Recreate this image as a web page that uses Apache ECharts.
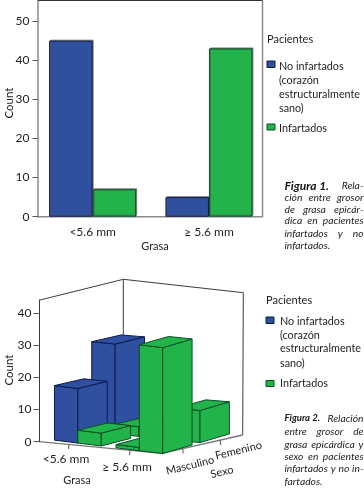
<!DOCTYPE html>
<html><head><meta charset="utf-8">
<style>html,body{margin:0;padding:0;background:#fff}#c{width:364px;height:490px}</style>
<script src="https://cdn.jsdelivr.net/npm/echarts@6/dist/echarts.min.js"></script>
</head><body><div id="c"></div>
<script>
// ---- data ----
const grasaLabels = ['<5.6 mm', '≥ 5.6 mm'];
const sexoLabels = ['Masculino', 'Femenino'];
const noInfartadosTotal = [45, 5];
const infartadosTotal = [7, 43];
const topTicks = [0, 10, 20, 30, 40, 50];
const bottomTicks = [0, 10, 20, 30, 40];
// per Grasa row: [Masculino, Femenino]
const noInfartadosPorSexo = [[17, 28], [1, 4]];
const infartadosPorSexo = [[4, 3], [33, 10]];
const legendTitle = 'Pacientes';
const legendNoInf = ['No infartados', '(corazón', 'estructuralmente', 'sano)'];
const legendInf = 'Infartados';
const captionOne = ['Figura 1. Rela-', 'ción entre grosor', 'de grasa epicár-', 'dica en pacientes', 'infartados y no', 'infartados.'];
const captionTwo = ['Figura 2. Relación', 'entre grosor de', 'grasa epicárdica y', 'sexo en pacientes', 'infartados y no in-', 'fartados.'];

// ---- style ----
const BLUE = '#2f4f9f', BLUE_E = '#0c1a4e', GREEN = '#23b34b', GREEN_E = '#0a4f26';
const TXT = '#1e1e1e', FONT = 'Lato, "Open Sans", sans-serif';
const AXG = '#8a8a8a', WALL = '#3c3c3c';

// ---- oblique projection of the floor, in x-axis units and counts ----
const U = 123, V = 80.7, PXC = 3.21, VY = 18.3;
const BAR_A = 0.19, BAR_B = 0.364, A0 = 0.043, A_ROW = 0.5, B0 = 0.12, B_ROW = 0.462;
function proj(a, b, h) {
  const k = 16 - 6 * b;
  return [a * U + b * V, h - (k * a - VY * b) / PXC];
}
const seriesColor = (s, i, j) => (s === 0 && !(i === 1 && j === 0)) ? [BLUE, BLUE_E] : [GREEN, GREEN_E];
// paint order back to front: [series, grasa, sexo]
const paint = [[0,0,1],[1,0,1],[0,1,1],[1,1,1],[0,0,0],[1,0,0],[0,1,0],[1,1,0]];
const bars3d = paint.map(([s,i,j]) => [s, i, j, (s === 0 ? noInfartadosPorSexo : infartadosPorSexo)[i][j]]);

function renderBar(params, api) {
  const s = api.value(0), i = api.value(1), j = api.value(2), h = api.value(3);
  const a = A0 + i * A_ROW + s * BAR_A, b = B0 + j * B_ROW;
  const P = (aa, bb, hh) => api.coord(proj(aa, bb, hh));
  const a1 = a + BAR_A, b1 = b + BAR_B;
  const [fill, stroke] = seriesColor(s, i, j);
  const st = { fill, stroke, lineWidth: 1 };
  const poly = pts => ({ type: 'polygon', shape: { points: pts }, style: st });
  return { type: 'group', children: [
    poly([P(a,b,0), P(a1,b,0), P(a1,b,h), P(a,b,h)]),
    poly([P(a1,b,0), P(a1,b1,0), P(a1,b1,h), P(a1,b,h)]),
    poly([P(a,b,h), P(a1,b,h), P(a1,b1,h), P(a,b1,h)])
  ]};
}

// ---- graphic helpers ----
const g = [];
const ln = (pts, stroke, w) => g.push({ type: 'polyline', z: 0, silent: true, shape: { points: pts }, style: { stroke, lineWidth: w, fill: null } });
const txt = (x, y, t, o) => g.push(Object.assign({ type: 'text', z: 5, x, y, style: Object.assign({ text: t, fill: TXT, font: '11px ' + FONT, align: 'left', verticalAlign: 'middle' }, o && o.style) }, o && o.pos));
const swatch = (x, y, w, h, f, e) => g.push({ type: 'rect', z: 5, shape: { x, y, width: w, height: h }, style: { fill: f, stroke: e, lineWidth: 1 } });
const mctx = document.createElement('canvas').getContext('2d');
function justified(line, x0, x1, y, font, color) {
  const words = line.split(' ');
  mctx.font = font;
  const ws = words.map(w => mctx.measureText(w).width);
  const gap = (x1 - x0 - ws.reduce((p, c) => p + c, 0)) / (words.length - 1);
  let x = x0;
  words.forEach((w, n) => { txt(x, y, w, { style: { font, fill: color } }); x += ws[n] + gap; });
}
function legendBlock(x0, tx, ys, sw) {
  txt(x0, ys.title, legendTitle, { style: { font: '11px ' + FONT } });
  swatch(x0, sw[0], 8, 6.5, BLUE, BLUE_E);
  legendNoInf.forEach((t, n) => txt(tx, ys.lines[n], t, { style: { font: '10.8px ' + FONT } }));
  swatch(x0, sw[1], 8, 6, GREEN, GREEN_E);
  txt(tx, ys.inf, legendInf, { style: { font: '10.8px ' + FONT } });
}
function caption(lines, ys, headSize) {
  const font = 'italic 10.3px ' + FONT, bf = 'italic bold ' + headSize + 'px ' + FONT;
  lines.forEach((l, n) => {
    if (n === lines.length - 1) { txt(284.5, ys[n], l, { style: { font, fill: '#222' } }); return; }
    if (n > 0) { justified(l, 284.5, 363.5, ys[n], font, '#222'); return; }
    const words = l.split(' ');
    txt(284.5, ys[n], words.slice(0, 2).join(' '), { style: { font: bf, fill: '#111' } });
    txt(363.5, ys[n], words.slice(2).join(' '), { style: { font, fill: '#222', align: 'right' } });
  });
}
const vertical = Math.PI / 2, rot = 0.24;

// top chart frame
ln([[37.5, 0.5], [262.5, 0.5]], '#333', 1);
ln([[262.5, 0], [262.5, 217]], AXG, 1.5);
ln([[37, 216.7], [263, 216.7]], AXG, 1.5);
txt(9, 103, 'Count', { pos: { rotation: vertical }, style: { font: '11.5px ' + FONT, align: 'center' } });
txt(155, 246, 'Grasa', { style: { font: '11px ' + FONT, align: 'center' } });
legendBlock(267, 279, { title: 39.5, lines: [67, 81, 95, 108.7], inf: 128.3 }, [61, 124]);
caption(captionOne, [186, 197.5, 209.5, 221, 233.3, 245.5], 12);

// bottom chart walls
ln([[40, 300], [123.3, 279.3], [243.3, 292.7], [242.7, 435]], WALL, 1);
ln([[123.3, 279.3], [123.3, 424]], WALL, 1);
ln([[39, 441.7], [162, 453.3], [242.7, 435]], '#777', 1.3);
[[69, 444.6, 68.5, 449], [130, 450.4, 129.5, 455], [182.7, 448.6, 183.3, 453.4], [220, 440, 220.7, 445]].forEach(t => ln([[t[0], t[1]], [t[2], t[3]]], '#555', 1));
txt(66, 459, grasaLabels[0], { style: { font: '12px ' + FONT, align: 'center' } });
txt(127, 467.3, grasaLabels[1], { style: { font: '12px ' + FONT, align: 'center' } });
txt(77, 480.5, 'Grasa', { style: { font: '11px ' + FONT, align: 'center' } });
txt(9, 370, 'Count', { pos: { rotation: vertical }, style: { font: '11.5px ' + FONT, align: 'center' } });
txt(190, 465.5, sexoLabels[0], { pos: { rotation: rot }, style: { font: '11px ' + FONT, align: 'center' } });
txt(238.5, 450.5, sexoLabels[1], { pos: { rotation: rot }, style: { font: '11px ' + FONT, align: 'center' } });
txt(222, 472, 'Sexo', { pos: { rotation: rot }, style: { font: '11px ' + FONT, align: 'center' } });
legendBlock(266, 280, { title: 300, lines: [321.7, 335.7, 349, 363.3], inf: 383.3 }, [317, 380.5]);
caption(captionTwo, [418.3, 431.7, 444.3, 456.7, 469, 481.7], 9.6);

const tickLabel = { color: TXT, fontFamily: 'Lato', fontSize: 12, margin: 8 };
const barStyle = (f, e) => ({ color: f, borderColor: e, borderWidth: 1, shadowColor: 'rgba(90,90,90,0.7)', shadowBlur: 0, shadowOffsetX: 1, shadowOffsetY: -1 });

const chart = echarts.init(document.getElementById('c'), null, { renderer: 'canvas' });
chart.setOption({
  animation: false,
  backgroundColor: '#fff',
  grid: [
    { left: 34.5, top: 1.5, width: 232.6, height: 215.2 },
    { left: 39.5, top: 299.8, width: 324, height: 141.9 }
  ],
  xAxis: [
    { gridIndex: 0, type: 'category', data: grasaLabels,
      axisLine: { show: false }, axisTick: { alignWithLabel: true, length: 5, lineStyle: { color: '#555' } },
      axisLabel: { color: TXT, fontFamily: 'Lato', fontSize: 12, margin: 9 }, splitLine: { show: false } },
    { gridIndex: 1, type: 'value', min: 0, max: 324, show: false }
  ],
  yAxis: [
    { gridIndex: 0, type: 'value', min: 0, max: 55, offset: -3,
      axisLine: { show: true, lineStyle: { color: AXG, width: 1.5 } },
      axisTick: { show: true, length: 5, customValues: topTicks, lineStyle: { color: '#555' } },
      axisLabel: Object.assign({ customValues: topTicks }, tickLabel), splitLine: { show: false } },
    { gridIndex: 1, type: 'value', min: 0, max: 44.2,
      axisLine: { show: true, lineStyle: { color: WALL, width: 1 } },
      axisTick: { show: true, length: 6, customValues: bottomTicks, lineStyle: { color: '#555' } },
      axisLabel: Object.assign({ customValues: bottomTicks }, tickLabel), splitLine: { show: false } }
  ],
  series: [
    { name: 'No infartados', type: 'bar', xAxisIndex: 0, yAxisIndex: 0, data: noInfartadosTotal, barWidth: 43.5, barGap: 0, itemStyle: barStyle(BLUE, BLUE_E) },
    { name: 'Infartados', type: 'bar', xAxisIndex: 0, yAxisIndex: 0, data: infartadosTotal, barWidth: 43.5, barGap: 0, itemStyle: barStyle(GREEN, GREEN_E) },
    { name: 'Sexo', type: 'custom', xAxisIndex: 1, yAxisIndex: 1, clip: false, renderItem: renderBar, data: bars3d, encode: { x: [], y: 3 } }
  ],
  graphic: { elements: g }
});
</script></body></html>
